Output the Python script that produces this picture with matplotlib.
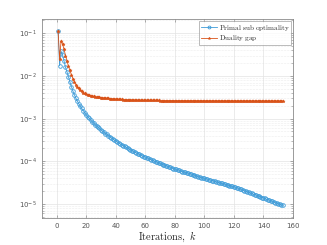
import numpy as np
import matplotlib
matplotlib.use('Agg')
import matplotlib.pyplot as plt
from matplotlib.ticker import LogLocator, NullFormatter, MultipleLocator

# log10 of primal sub optimality, iterations 1..153
primal_log = [
    -0.945, -1.76, -1.42, -1.51, -1.64, -1.80, -1.90, -2.02, -2.14, -2.25,
    -2.35, -2.44, -2.52, -2.59, -2.65, -2.71, -2.76, -2.81, -2.86, -2.91,
    -2.95, -2.99, -3.03, -3.07, -3.10, -3.14, -3.17, -3.20, -3.23, -3.26,
    -3.29, -3.32, -3.35, -3.37, -3.40, -3.42, -3.45, -3.47, -3.50, -3.52,
    -3.54, -3.57, -3.59, -3.61, -3.63, -3.65, -3.67, -3.69, -3.71, -3.73,
    -3.75, -3.77, -3.79, -3.80, -3.82, -3.84, -3.85, -3.87, -3.89, -3.90,
    -3.92, -3.93, -3.95, -3.96, -3.98, -3.99, -4.01, -4.02, -4.04, -4.05,
    -4.06, -4.08, -4.09, -4.10, -4.12, -4.13, -4.14, -4.15, -4.17, -4.18,
    -4.19, -4.20, -4.21, -4.23, -4.24, -4.25, -4.26, -4.27, -4.28, -4.29,
    -4.30, -4.31, -4.32, -4.34, -4.35, -4.36, -4.37, -4.38, -4.39, -4.40,
    -4.41, -4.42, -4.43, -4.44, -4.45, -4.46, -4.47, -4.48, -4.49, -4.50,
    -4.51, -4.52, -4.53, -4.54, -4.55, -4.56, -4.57, -4.58, -4.59, -4.60,
    -4.61, -4.62, -4.635, -4.65, -4.66, -4.67, -4.69, -4.70, -4.71, -4.73,
    -4.74, -4.75, -4.77, -4.78, -4.79, -4.81, -4.82, -4.83, -4.85, -4.86,
    -4.87, -4.89, -4.90, -4.91, -4.93, -4.94, -4.95, -4.97, -4.98, -4.99,
    -5.01, -5.02, -5.03,
]

# log10 of duality gap, iterations 1..153
gap_log = [
    -0.945, -1.60, -1.18, -1.25, -1.37, -1.52, -1.65, -1.77, -1.87, -1.97,
    -2.06, -2.14, -2.20, -2.25, -2.29, -2.33, -2.36, -2.39, -2.41, -2.43,
    -2.44, -2.45, -2.46, -2.47, -2.48, -2.485, -2.49, -2.495, -2.50, -2.505,
    -2.51, -2.515, -2.52, -2.523, -2.526, -2.529, -2.532, -2.535, -2.538, -2.541,
    -2.544, -2.547, -2.55, -2.551, -2.552, -2.553, -2.554, -2.555, -2.556, -2.557,
    -2.558, -2.559, -2.560, -2.562, -2.565, -2.566, -2.567, -2.568, -2.568, -2.569,
    -2.569, -2.570, -2.570, -2.571, -2.572, -2.572, -2.573, -2.574, -2.574, -2.575,
    -2.575, -2.575, -2.576, -2.576, -2.576, -2.577, -2.577, -2.577, -2.577, -2.578,
    -2.578, -2.578, -2.578, -2.578, -2.579, -2.579, -2.579, -2.579, -2.579, -2.579,
    -2.580, -2.580, -2.580, -2.580, -2.580, -2.580, -2.580, -2.580, -2.580, -2.580,
    -2.581, -2.581, -2.581, -2.581, -2.581, -2.581, -2.581, -2.581, -2.581, -2.581,
    -2.582, -2.582, -2.582, -2.582, -2.582, -2.582, -2.582, -2.582, -2.582, -2.582,
    -2.583, -2.583, -2.583, -2.583, -2.583, -2.583, -2.583, -2.583, -2.583, -2.583,
    -2.584, -2.584, -2.584, -2.584, -2.584, -2.584, -2.584, -2.584, -2.584, -2.584,
    -2.584, -2.585, -2.585, -2.585, -2.585, -2.585, -2.585, -2.585, -2.585, -2.585,
    -2.585, -2.585, -2.585,
]

labels = ['Primal sub optimality', 'Duality gap']

plt.rcParams['mathtext.fontset'] = 'cm'
plt.rcParams['font.family'] = 'DejaVu Sans'

iters = np.arange(1, len(primal_log) + 1)
primal = 10 ** np.array(primal_log)
gap = 10 ** np.array(gap_log)

fig = plt.figure(figsize=(3.27, 2.45), dpi=100)
ax = fig.add_axes([0.128, 0.110, 0.768, 0.812])

blue = '#3E9BD8'
red = '#D95319'
ax.semilogy(iters, primal, '-o', color=blue, lw=0.6, ms=2.6, mfc='none', mew=0.6,
            label=r'$\mathrm{Primal\ sub\ optimality}$')
ax.semilogy(iters, gap, '-*', color=red, lw=0.6, ms=2.4, mew=0.4,
            label=r'$\mathrm{Duality\ gap}$')

ax.set_xlim(-10, 160)
ax.set_ylim(10 ** -5.33, 10 ** -0.667)
ax.xaxis.set_major_locator(MultipleLocator(20))
ax.yaxis.set_major_locator(LogLocator(base=10, numticks=10))
ax.yaxis.set_minor_locator(LogLocator(base=10, subs=np.arange(2, 10), numticks=20))
ax.yaxis.set_minor_formatter(NullFormatter())

edge = '#262626'
for s in ax.spines.values():
    s.set_color('#8a8a8a')
    s.set_linewidth(0.6)
ax.tick_params(which='both', direction='in', top=True, right=True,
               colors='#8a8a8a', labelcolor='#555555', labelsize=5)
ax.tick_params(which='major', length=2.5, width=0.5)
ax.tick_params(which='minor', length=1.3, width=0.4)

ax.grid(True, which='major', color='#e3e3e3', lw=0.5, ls='-')
ax.grid(True, which='minor', axis='y', color='#dcdcdc', lw=0.4, ls=':')
ax.set_axisbelow(True)

ax.set_xlabel(r'$\mathrm{Iterations,}\ k$', fontsize=7.5, color=edge, labelpad=0.5)

leg = ax.legend(loc='upper right', fontsize=5.2, frameon=True, fancybox=False,
                borderpad=0.25, handlelength=2.3, labelspacing=0.1,
                borderaxespad=0.25, handletextpad=0.2, markerscale=0.8)
leg.get_frame().set_edgecolor('#888888')
leg.get_frame().set_linewidth(0.5)
for t in leg.get_texts():
    t.set_color(edge)

fig.savefig('out.png', dpi=100)
